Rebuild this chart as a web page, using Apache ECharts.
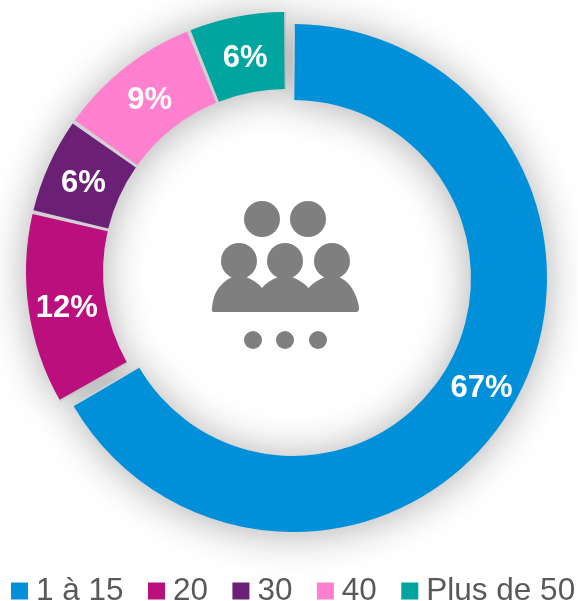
<!DOCTYPE html>
<html><head><meta charset="utf-8">
<style>html,body{margin:0;padding:0;background:#fff}#c{width:578px;height:601px}</style>
<script src="https://cdn.jsdelivr.net/npm/echarts@6/dist/echarts.min.js"></script>
</head><body><div id="c"></div>
<script>
const categories = ['1 à 15', '20', '30', '40', 'Plus de 50'];
const values = [66.7, 12, 6.1, 9.1, 6.1];
const colors = ['#0090DA', '#BB0F7E', '#6B1F75', '#FF80CF', '#00A5A0'];

const FONT = '"Liberation Sans", Arial, sans-serif';
const gray = '#7F7F7F';
echarts.graphic.registerShape('peopleBody', echarts.graphic.extendPath('M214 312 Q211 312 212 308 C213 295 218 284 232 277 L246 277 C253 280 258 283 262 288 C266 283 271 280 278 277 L292 277 C299 280 304 283 308.5 288 C313 283 318 280 325 277 L339 277 C348 281 352 288 354 292 C357 298 359 304 359 309 Q359 312 356 312 Z'));
const chart = echarts.init(document.getElementById('c'));
const labelNudge = [[-1, 1], [3, 4], [2, 4], [3, 5], [2, 7]];
const filler = v => ({ name: '', value: v, itemStyle: { color: 'transparent' }, label: { show: false } });
const item = i => ({ name: categories[i], value: values[i], itemStyle: { color: colors[i] }, label: { offset: labelNudge[i] } });
const rest = values.slice(1).reduce((a, b) => a + b, 0);
const under = v => ({ name: '', value: v, itemStyle: { color: '#D2D2D2', shadowBlur: 42, shadowColor: 'rgba(0,0,0,0.32)', shadowOffsetY: 2 }, label: { show: false } });
const pieBase = {
  type: 'pie', startAngle: 90, clockwise: true, silent: true, animation: false,
  padAngle: 0.85, minAngle: 0, avoidLabelOverlap: false, labelLine: { show: false },
  label: {
    show: true, position: 'inside', color: '#fff', fontFamily: FONT, fontWeight: 'bold', fontSize: 31,
    formatter: p => Math.round(p.value) + '%'
  }
};
const circle = (cx, cy, r) => ({ type: 'circle', silent: true, shape: { cx, cy, r }, style: { fill: gray } });
const geoA = { center: [293, 278], radius: [178, 254] };
const geoB = { center: [286, 272], radius: [183, 260] };
chart.setOption({
  backgroundColor: '#fff',
  animation: false,
  legend: {
    data: categories, left: 11, top: 575, width: 800, padding: 0, itemWidth: 17, itemHeight: 17, itemGap: 24.4,
    icon: 'rect', selectedMode: false,
    textStyle: { color: '#595959', fontFamily: FONT, fontSize: 31.5, padding: [0, 0, 0, 3] }
  },
  series: [
    Object.assign({}, pieBase, geoB, { z: 1, padAngle: 0, data: [filler(values[0]), under(rest)] }),
    Object.assign({}, pieBase, geoA, { z: 1, padAngle: 0, data: [under(values[0]), filler(rest)] }),
    Object.assign({}, pieBase, geoA, { z: 2, data: [item(0), filler(rest)] }),
    Object.assign({}, pieBase, geoB, { z: 2, data: [filler(values[0])].concat([1, 2, 3, 4].map(item)) })
  ],
  graphic: [
    circle(262, 219, 18), circle(308, 219, 18),
    circle(239, 261, 18), circle(285, 261, 18), circle(332, 261, 18),
    circle(253, 340, 9), circle(285, 340, 9), circle(318, 340, 9),
    { type: 'peopleBody', silent: true, style: { fill: gray } }
  ]
});
</script></body></html>
